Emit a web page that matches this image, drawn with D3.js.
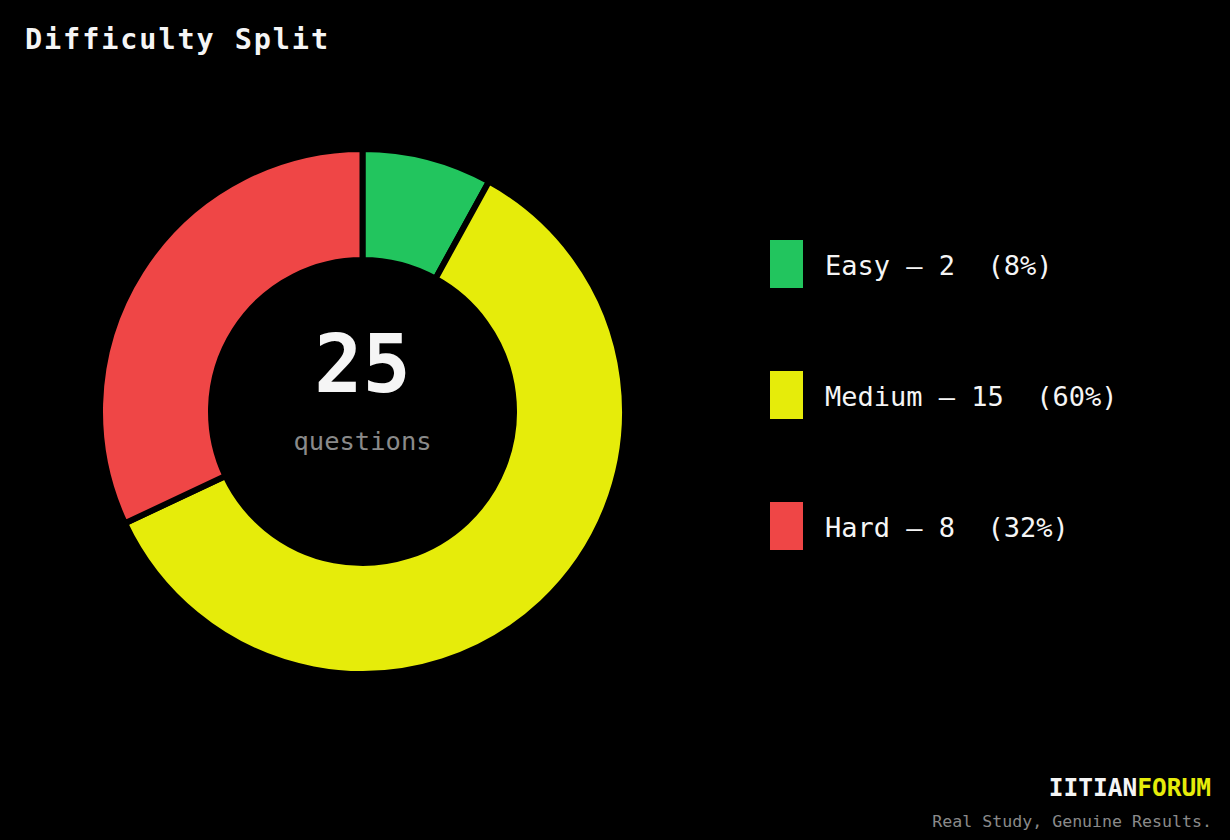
<!DOCTYPE html>
<html>
<head>
<meta charset="utf-8">
<script src="https://cdn.jsdelivr.net/npm/d3@7"></script>
<style>
  html, body { margin: 0; padding: 0; background: #000; }
  svg { display: block; }
  text { font-family: "DejaVu Sans Mono", monospace; white-space: pre; }
</style>
</head>
<body>
<svg id="chart" width="1230" height="840"></svg>
<script>
const categories = ["Easy", "Medium", "Hard"];
const counts = [2, 15, 8];
const colors = ["#22c55e", "#e6ec0a", "#ef4646"];
const titleText = "Difficulty Split";
const centerLabel = "questions";
const brandA = "IITIAN";
const brandB = "FORUM";
const tagline = "Real Study, Genuine Results.";

const svg = d3.select("#chart");
const W = 1230, H = 840;
svg.append("rect").attr("width", W).attr("height", H).attr("fill", "#000");

svg.append("text")
  .attr("x", 25).attr("y", 48.5)
  .attr("fill", "#f5f5f5")
  .attr("font-size", 28.5).attr("font-weight", "bold")
  .attr("letter-spacing", 1.9)
  .text(titleText);

const total = d3.sum(counts);
const data = categories.map((c, i) => ({ cat: c, value: counts[i], color: colors[i] }));

const cx = 362.5, cy = 411.5;
const pie = d3.pie().sort(null).value(d => d.value);
const arc = d3.arc().innerRadius(151.5).outerRadius(262.5);

const g = svg.append("g").attr("transform", `translate(${cx},${cy})`);
g.selectAll("path").data(pie(data)).join("path")
  .attr("d", arc)
  .attr("fill", d => d.data.color)
  .attr("stroke", "#000")
  .attr("stroke-width", 6)
  .attr("stroke-linejoin", "miter");

g.append("text")
  .attr("x", 0).attr("y", -19.5)
  .attr("text-anchor", "middle")
  .attr("fill", "#f5f5f5")
  .attr("font-size", 80).attr("font-weight", "bold")
  .text(total);

g.append("text")
  .attr("x", 0).attr("y", 38)
  .attr("text-anchor", "middle")
  .attr("fill", "#8a8a8a")
  .attr("font-size", 25.5)
  .text(centerLabel);

// Legend
const legY = d3.scalePoint().domain(categories).range([240, 502]);
const leg = svg.append("g");
const items = leg.selectAll("g").data(data).join("g")
  .attr("transform", d => `translate(770,${legY(d.cat)})`);
items.append("rect")
  .attr("width", 33).attr("height", 48)
  .attr("fill", d => d.color);
items.append("text")
  .attr("x", 55).attr("y", 34.5)
  .attr("fill", "#f5f5f5")
  .attr("font-size", 27)
  .text(d => `${d.cat} — ${d.value}  (${Math.round(d.value / total * 100)}%)`);

// Footer
const brand = svg.append("text")
  .attr("x", 1211).attr("y", 796)
  .attr("text-anchor", "end")
  .attr("font-size", 24.5).attr("font-weight", "bold");
brand.append("tspan").attr("fill", "#f5f5f5").text(brandA);
brand.append("tspan").attr("fill", "#e6ec0a").text(brandB);

svg.append("text")
  .attr("x", 1212).attr("y", 827)
  .attr("text-anchor", "end")
  .attr("fill", "#8a8a8a")
  .attr("font-size", 16.6)
  .text(tagline);
</script>
</body>
</html>
